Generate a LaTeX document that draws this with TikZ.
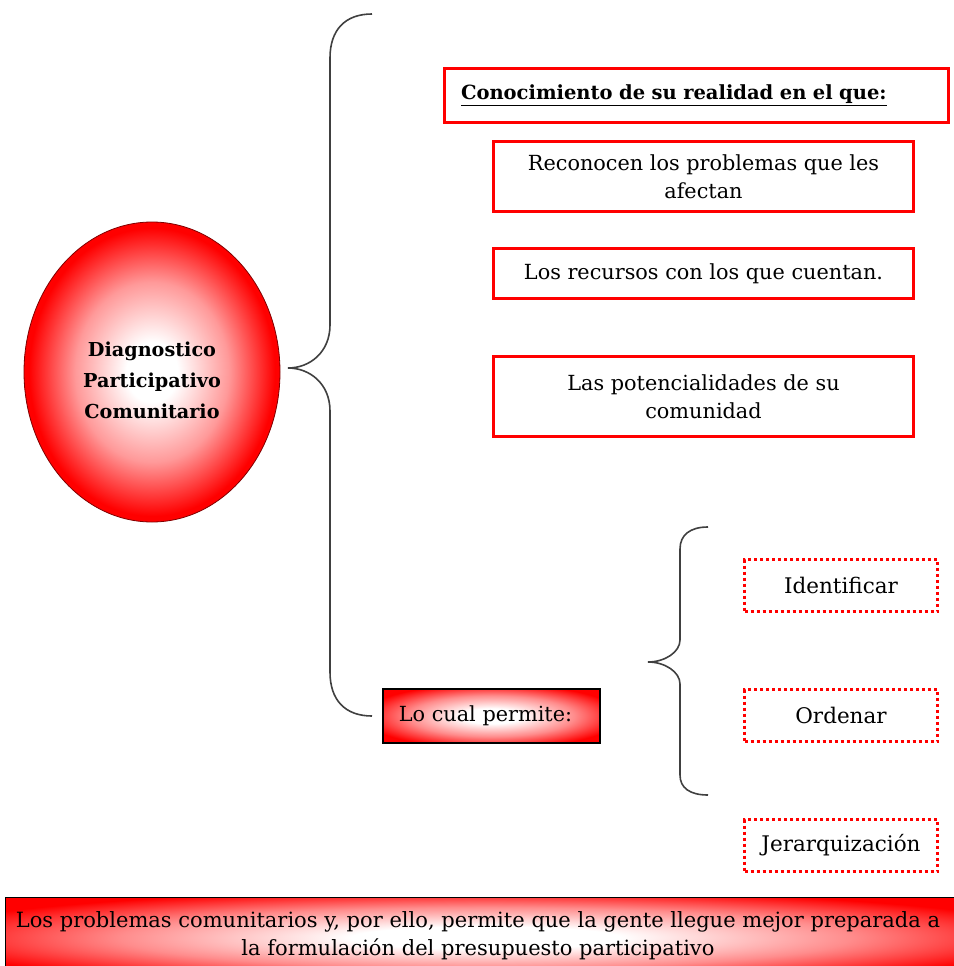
\documentclass[tikz,border=0pt]{standalone}
\usepackage{fontspec}
\setmainfont{DejaVu Serif}
\usetikzlibrary{shapes.geometric}
% white centre fading to red towards the rim (the rim sits at 25bp)
\pgfdeclareradialshading{ovalglow}{\pgfpoint{0bp}{0bp}}{%
  color(0bp)=(white); color(5bp)=(white); color(15bp)=(red!40!white);
  color(24bp)=(red); color(50bp)=(red)}
\pgfdeclareradialshading{boxglow}{\pgfpoint{0bp}{0bp}}{%
  color(0bp)=(white); color(7bp)=(white); color(19bp)=(red!45!white);
  color(30bp)=(red); color(50bp)=(red)}
\begin{document}
\begin{tikzpicture}[x=1pt,y=-1pt,
  txt/.style={font=\fontsize{20.8}{28}\selectfont, align=center, text=black},
  redbox/.style={txt, draw=red, line width=3pt, fill=white, inner sep=0pt},
  dotbox/.style={txt, draw=red, line width=3pt, dash pattern=on 3pt off 3pt,
    fill=white, minimum width=193pt, minimum height=52pt, inner sep=0pt},
  gradbox/.style={txt, draw=black, line width=1.2pt, shading=boxglow,
    inner sep=0pt},
  bracket/.style={draw=black!75, line width=1.6pt}]
\useasboundingbox (0,0) rectangle (953,966);

% central ellipse
\node[ellipse, draw=red!50!black, line width=0.8pt, shading=ovalglow,
  minimum width=256pt, minimum height=300pt] (diag) at (152,372) {};
\node[txt, font=\fontsize{19.2}{31}\selectfont\bfseries] (diagtxt) at (152,380)
  {Diagnostico\\Participativo\\Comunitario};

% big bracket
\coordinate (bt) at (372,14);
\coordinate (btip) at (288,368);
\coordinate (bb) at (372,716);
\draw[bracket] (bt) .. controls (345,14) and (330,30) .. (330,58)
  -- (330,325) .. controls (330,352) and (310,368) .. (btip)
  .. controls (310,368) and (330,384) .. (330,411)
  -- (330,672) .. controls (330,700) and (345,716) .. (bb);

% upper group
\node[redbox, minimum width=504pt, minimum height=53pt, text width=470pt,
  align=left, font=\fontsize{19.5}{27}\selectfont\bfseries] (con) at (696,95.5)
  {\underline{Conocimiento de su realidad en el que:}};
\node[redbox, minimum width=420pt, minimum height=70pt] (rec) at (703.5,176.5)
  {Reconocen los problemas que les\\afectan};
\node[redbox, minimum width=420pt, minimum height=50pt] (recur) at (703.5,273.5)
  {Los recursos con los que cuentan.};
\node[redbox, minimum width=420pt, minimum height=80pt] (pot) at (703.5,396.5)
  {Las potencialidades de su\\comunidad};

% lower group
\node[gradbox, minimum width=217pt, minimum height=54pt] (perm) at (491.5,716)
  {\hspace*{-12pt}Lo cual permite:};

\coordinate (st) at (708,527);
\coordinate (stip) at (648,662);
\coordinate (sb) at (708,795);
\draw[bracket] (st) .. controls (690,527) and (680,535) .. (680,549)
  -- (680,640) .. controls (680,652) and (665,662) .. (stip)
  .. controls (665,662) and (680,672) .. (680,684)
  -- (680,775) .. controls (680,788) and (690,795) .. (sb);

\node[dotbox, font=\fontsize{21.5}{28}\selectfont] (ident) at (841,585.5) {Identificar};
\node[dotbox, font=\fontsize{21.5}{28}\selectfont] (orden) at (841,715.5) {Ordenar};
\node[dotbox, font=\fontsize{21.5}{28}\selectfont] (jer) at (841,845.5) {Jerarquización};

% closing statement
\node[gradbox, minimum width=960pt, minimum height=80pt,
  anchor=north west] (res) at (5,897) {};
\node[txt, font=\fontsize{21}{28}\selectfont] (restxt) at (478,936)
  {Los problemas comunitarios y, por ello, permite que la gente llegue mejor preparada a\\la formulación del presupuesto participativo};
\end{tikzpicture}
\end{document}
